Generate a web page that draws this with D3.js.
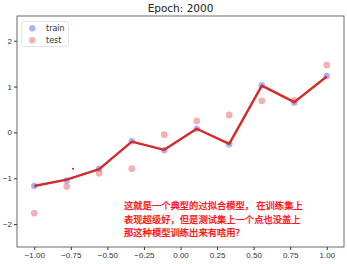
<!DOCTYPE html>
<html lang="zh">
<head>
<meta charset="UTF-8">
<title>Epoch: 2000</title>
<style>
  html, body { margin: 0; padding: 0; background: #fff; }
  svg { display: block; font-family: "DejaVu Sans", sans-serif; }
  .axis text { font-size: 8px; fill: #333; }
  .axis line, .axis path { stroke: #333; }
</style>
</head>
<body>
<svg id="svg" width="347" height="264"></svg>
<script src="https://d3js.org/d3.v7.min.js"></script>
<script>
// data
const xs = [-1.0, -0.778, -0.556, -0.333, -0.111, 0.111, 0.333, 0.556, 0.778, 1.0];
const trainY = [-1.17, -1.05, -0.79, -0.19, -0.39, 0.08, -0.26, 1.03, 0.65, 1.23];
const testY = [-1.76, -1.18, -0.89, -0.79, -0.05, 0.25, 0.38, 0.69, 0.70, 1.47];
const fitY = [-1.17, -1.03, -0.80, -0.20, -0.38, 0.08, -0.25, 1.02, 0.66, 1.22];
const xTicks = [-1.0, -0.75, -0.5, -0.25, 0, 0.25, 0.5, 0.75, 1.0];
const yTicks = [-2, -1, 0, 1, 2];
const note = ["这就是一个典型的过拟合模型， 在训练集上", "表现超级好，但是测试集上一个点也没盖上", "那这种模型训练出来有啥用?"];

const margin = { top: 16, right: 3, bottom: 17, left: 17 };
const W = 347, H = 264;
const svg = d3.select('#svg');

const x = d3.scaleLinear().domain([-1.118, 1.118]).range([margin.left, W - margin.right]);
const y = d3.scaleLinear().domain([-2.5, 2.54]).range([H - margin.bottom, margin.top]);

// axes
svg.append('g').attr('class', 'axis')
  .attr('transform', `translate(0, ${H - margin.bottom})`)
  .call(d3.axisBottom(x).tickValues(xTicks).tickSize(3).tickPadding(2)
    .tickFormat(d => d3.format('.2f')(d).replace('-', '\u2212')))
  .select('.domain').remove();

svg.append('g').attr('class', 'axis')
  .attr('transform', `translate(${margin.left}, 0)`)
  .call(d3.axisLeft(y).tickValues(yTicks).tickSize(3).tickPadding(2)
    .tickFormat(d => String(d).replace('-', '\u2212')))
  .select('.domain').remove();

// frame
svg.append('rect')
  .attr('x', margin.left).attr('y', margin.top)
  .attr('width', W - margin.left - margin.right)
  .attr('height', H - margin.top - margin.bottom)
  .attr('fill', 'none').attr('stroke', '#444').attr('stroke-width', 0.8);

// title
svg.append('text')
  .attr('x', (margin.left + W - margin.right) / 2).attr('y', 12)
  .attr('text-anchor', 'middle')
  .style('font-size', '10.5px').style('fill', '#222')
  .text('Epoch: 2000');

// train points
svg.append('g').selectAll('circle')
  .data(xs.map((d, i) => [d, trainY[i]]))
  .join('circle')
  .attr('cx', d => x(d[0])).attr('cy', d => y(d[1])).attr('r', 3.2)
  .attr('fill', 'rgb(80,80,240)').attr('fill-opacity', 0.45);

// test points
svg.append('g').selectAll('circle')
  .data(xs.map((d, i) => [d, testY[i]]))
  .join('circle')
  .attr('cx', d => x(d[0])).attr('cy', d => y(d[1])).attr('r', 3.4)
  .attr('fill', 'rgb(230,80,90)').attr('fill-opacity', 0.45);

// fitted line
const line = d3.line().x(d => x(d[0])).y(d => y(d[1]));
svg.append('path')
  .datum(xs.map((d, i) => [d, fitY[i]]))
  .attr('d', line)
  .attr('fill', 'none').attr('stroke', '#d42a2a').attr('stroke-width', 2.4)
  .attr('stroke-linejoin', 'round');

// stray dot
svg.append('circle')
  .attr('cx', x(-0.735)).attr('cy', y(-0.79)).attr('r', 0.9).attr('fill', '#900');

// legend
const lg = svg.append('g');
lg.append('rect').attr('x', 21.5).attr('y', 21.5).attr('width', 47).attr('height', 25)
  .attr('rx', 2).attr('fill', '#fff').attr('stroke', '#ddd').attr('stroke-width', 0.8);
[['train', 'rgb(80,80,240)'], ['test', 'rgb(230,80,90)']].forEach((d, i) => {
  lg.append('circle').attr('cx', 32.3).attr('cy', 28.3 + i * 12).attr('r', 3.2)
    .attr('fill', d[1]).attr('fill-opacity', 0.45);
  lg.append('text').attr('x', 46).attr('y', 31 + i * 12)
    .style('font-size', '8px').style('fill', '#333').text(d[0]);
});

// annotation
svg.append('g').selectAll('text')
  .data(note).join('text')
  .attr('x', 124).attr('y', (d, i) => 209 + i * 13.7)
  .style('font-family', '"Noto Sans CJK SC", sans-serif')
  .style('font-size', '9.3px').style('fill', '#f00')
  .style('stroke', '#f00').style('stroke-width', 0.25)
  .text(d => d);
</script>
</body>
</html>
